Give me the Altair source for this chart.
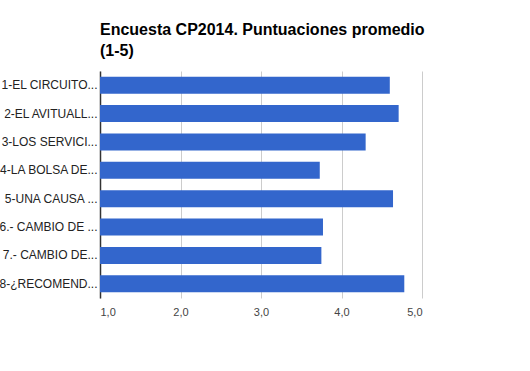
import altair as alt
import pandas as pd

categories = [
    "1-EL CIRCUITO...",
    "2-EL AVITUALL...",
    "3-LOS SERVICI...",
    "4-LA BOLSA DE...",
    "5-UNA CAUSA ...",
    "6.- CAMBIO DE ...",
    "7.- CAMBIO DE...",
    "8-¿RECOMEND...",
]
values = [4.60, 4.71, 4.30, 3.73, 4.64, 3.77, 3.75, 4.78]
x_ticks = [1, 2, 3, 4, 5]
baseline = 1

df = pd.DataFrame({"pregunta": categories, "valor": values})

chart = alt.Chart(df).mark_bar(color="#3366cc").encode(
    x=alt.X(
        "valor:Q",
        scale=alt.Scale(domain=[1, 5], nice=False, zero=False),
        axis=alt.Axis(
            title=None,
            values=x_ticks,
            labelExpr="replace(format(datum.value, '.1f'), '.', ',')",
            domain=False,
            ticks=False,
            grid=True,
            gridColor="#cccccc",
            labelColor="#444444",
            labelFont="Liberation Sans",
            labelFontSize=11,
            labelPadding=8,
        ),
    ),
    x2=alt.datum(baseline),
    y=alt.Y(
        "pregunta:N",
        sort=categories,
        scale=alt.Scale(paddingInner=0.4, paddingOuter=0.2),
        axis=alt.Axis(
            title=None,
            domain=True,
            domainColor="#333333",
            domainWidth=1.5,
            ticks=False,
            grid=False,
            labelColor="#222222",
            labelFont="Liberation Sans",
            labelFontSize=12,
            labelPadding=3,
            labelLimit=200,
        ),
    ),
).properties(
    width=322,
    height=227,
    title=alt.TitleParams(
        ["Encuesta CP2014. Puntuaciones promedio", "(1-5)"],
        anchor="start",
        frame="group",
        font="Liberation Sans",
        fontSize=16,
        fontWeight="bold",
        color="#000000",
        lineHeight=21,
        offset=12,
    ),
    autosize=alt.AutoSizeParams(type="none"),
    padding={"left": 100, "top": 71, "right": 108, "bottom": 73},
).configure_view(stroke=None)

chart.save("out.html", embed_options={"renderer": "svg", "actions": False})
